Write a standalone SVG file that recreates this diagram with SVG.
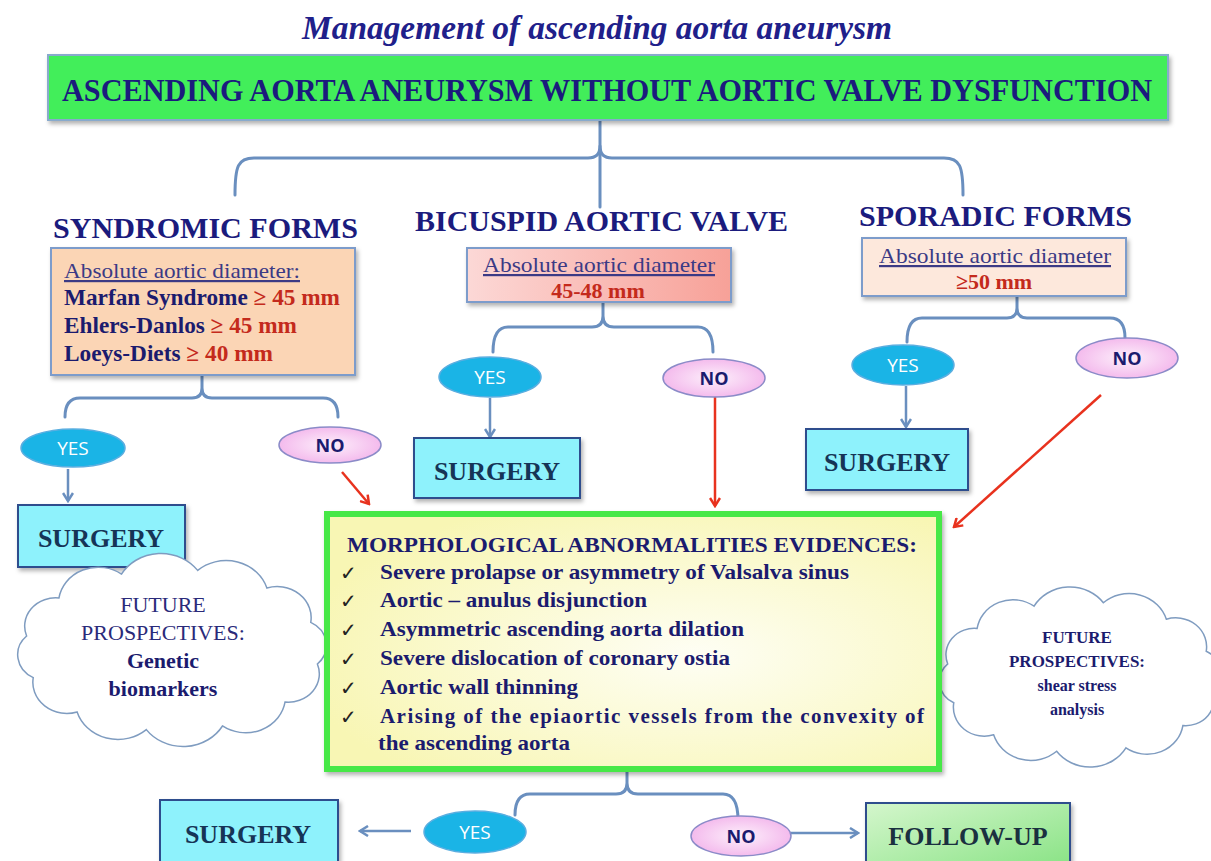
<svg xmlns="http://www.w3.org/2000/svg" xmlns:xlink="http://www.w3.org/1999/xlink" width="1211" height="861" viewBox="0 0 1211 861">
<style>
.hd{font-family:"Liberation Serif",serif;font-weight:bold;fill:#1b1b7d}
.sub{font-family:"Liberation Serif",serif;fill:#3b3a85;text-decoration:underline}
.bd{font-family:"Liberation Serif",serif;font-weight:bold;fill:#1b1b6e}
.red{fill:#c42a1c}
.conn{fill:none;stroke:#6a8fbf;stroke-width:3;stroke-linecap:round;stroke-linejoin:round}
.arb{fill:none;stroke:#6a8fbf;stroke-width:2.5}
.arr{fill:none;stroke:#e8321e;stroke-width:2.5}
.yes{fill:#1ab4e6;stroke:#5aaee0;stroke-width:1.5}
.no{fill:url(#gNo);stroke:#8b8bc8;stroke-width:1.5}
.yt{font-family:"Open Sans","DejaVu Sans",sans-serif;font-size:19px;fill:#ffffff;text-anchor:middle}
.nt{font-family:"Open Sans","DejaVu Sans",sans-serif;font-size:18px;font-weight:bold;fill:#1b1b6e;text-anchor:middle}
.surg{fill:#8ef2fc;stroke:#2d4d8d;stroke-width:2}
.st{font-family:"Liberation Serif",serif;font-weight:bold;font-size:26px;fill:#163456;text-anchor:middle}
.cloud{fill:#ffffff;stroke:#7f9cc0;stroke-width:1.5}
.ck{font-family:"DejaVu Sans",sans-serif;font-size:20px;fill:#222}
</style>
<defs>
<filter id="sh" x="-10%" y="-10%" width="120%" height="130%">
<feDropShadow dx="2" dy="3" stdDeviation="2" flood-color="#000" flood-opacity="0.3"/>
</filter>
<radialGradient id="gNo" cx="50%" cy="50%" r="60%">
<stop offset="0" stop-color="#fdf0fb"/>
<stop offset="1" stop-color="#f2b0ea"/>
</radialGradient>
<linearGradient id="gBic" x1="0" y1="0" x2="1" y2="0">
<stop offset="0" stop-color="#fcd8d6"/>
<stop offset="1" stop-color="#f7a198"/>
</linearGradient>
<radialGradient id="gMid" cx="60%" cy="55%" r="65%">
<stop offset="0" stop-color="#fefef4"/>
<stop offset="1" stop-color="#f8f6b4"/>
</radialGradient>
<linearGradient id="gFol" x1="0" y1="0" x2="1" y2="1">
<stop offset="0" stop-color="#d4f6cc"/>
<stop offset="1" stop-color="#86e282"/>
</linearGradient>
<marker id="mb" viewBox="0 0 12 12" refX="10" refY="6" markerWidth="12" markerHeight="12" markerUnits="userSpaceOnUse" orient="auto">
<path d="M2,1 L10,6 L2,11" fill="none" stroke="#6a8fbf" stroke-width="2.5"/>
</marker>
<marker id="mr" viewBox="0 0 12 12" refX="10" refY="6" markerWidth="12" markerHeight="12" markerUnits="userSpaceOnUse" orient="auto">
<path d="M2,1 L10,6 L2,11" fill="none" stroke="#e8321e" stroke-width="2.5"/>
</marker>
<path id="cloudShape" vector-effect="non-scaling-stroke" d="M-98.5,-10.4 A21,21 0 0 1 -76.6,-38.6 A27,27 0 0 1 -34.2,-56.4 A31,31 0 0 1 17.4,-59.1 A29,29 0 0 1 64.3,-46 A23,23 0 0 1 94,-20.5 A19,19 0 0 1 98.5,10.4 A21,21 0 0 1 76.6,38.6 A27,27 0 0 1 34.2,56.4 A31,31 0 0 1 -17.4,59.1 A29,29 0 0 1 -64.3,46 A23,23 0 0 1 -94,20.5 A19,19 0 0 1 -98.5,-10.4 Z"/>
</defs>

<rect width="1211" height="861" fill="#ffffff"/>

<text id="title" x="597" y="39" text-anchor="middle" textLength="590" lengthAdjust="spacingAndGlyphs" style="font-family:'Liberation Serif',serif;font-style:italic;font-weight:bold;font-size:33px;fill:#20208a">Management of ascending aorta aneurysm</text>

<g id="connectors">
<path class="conn" d="M600,120 L600,207"/>
<path class="conn" d="M235,195 C235,166 238,158 254,158 L588,158 Q600,158 600,146 Q600,158 612,158 L944,158 C960,158 963,166 963,195"/>
<path class="conn" d="M202,375 L202,388 Q202,398 192,398 L80,398 Q65,398 65,417 M202,388 Q202,398 212,398 L323,398 Q338,398 338,417"/>
<path class="conn" d="M603,302 L603,316 Q603,327 592,327 L508,327 Q493,327 493,352 M603,316 Q603,327 614,327 L698,327 Q713,327 713,352"/>
<path class="conn" d="M1017,296 L1017,308 Q1017,318 1007,318 L922,318 Q907,318 907,342 M1017,308 Q1017,318 1027,318 L1110,318 Q1125,318 1125,338"/>
<path class="conn" d="M627,769 L627,783 Q627,794 616,794 L530,794 Q515,794 515,815 M627,783 Q627,794 638,794 L723,794 Q738,794 738,820"/>
<path class="arb" d="M68,469 L68,501" marker-end="url(#mb)"/>
<path class="arb" d="M490,398 L490,437" marker-end="url(#mb)"/>
<path class="arb" d="M906,386 L906,427" marker-end="url(#mb)"/>
<path class="arb" d="M411,831 L360,831" marker-end="url(#mb)"/>
<path class="arb" d="M791,833 L858,833" marker-end="url(#mb)"/>
<path class="arr" d="M342,472 L369,504" marker-end="url(#mr)"/>
<path class="arr" d="M715,396 L715,506" marker-end="url(#mr)"/>
<path class="arr" d="M1101,395 L954,527" marker-end="url(#mr)"/>
</g>

<g id="top">
<rect x="48" y="55" width="1120" height="65" fill="#42ee5a" stroke="#88aacc" stroke-width="2" filter="url(#sh)"/>
<text class="hd" x="62" y="101" font-size="31" textLength="1090" lengthAdjust="spacingAndGlyphs">ASCENDING AORTA ANEURYSM WITHOUT AORTIC VALVE DYSFUNCTION</text>
</g>

<g id="syndromic">
<text class="hd" x="53" y="238" font-size="30" textLength="305" lengthAdjust="spacingAndGlyphs">SYNDROMIC FORMS</text>
<rect x="51" y="248" width="304" height="127" fill="#fbd5b5" stroke="#7d9ccb" stroke-width="2" filter="url(#sh)"/>
<text class="sub" x="64" y="278" font-size="22" textLength="236" lengthAdjust="spacingAndGlyphs">Absolute aortic diameter:</text>
<text class="bd" x="64" y="305" font-size="23" textLength="276" lengthAdjust="spacingAndGlyphs">Marfan Syndrome <tspan class="red">≥ 45 mm</tspan></text>
<text class="bd" x="64" y="333" font-size="23" textLength="233" lengthAdjust="spacingAndGlyphs">Ehlers-Danlos <tspan class="red">≥ 45 mm</tspan></text>
<text class="bd" x="64" y="361" font-size="23" textLength="209" lengthAdjust="spacingAndGlyphs">Loeys-Diets <tspan class="red">≥ 40 mm</tspan></text>
</g>

<g id="bicuspid">
<text class="hd" x="415" y="231" font-size="29" textLength="373" lengthAdjust="spacingAndGlyphs">BICUSPID AORTIC VALVE</text>
<rect x="467" y="248" width="264" height="54" fill="url(#gBic)" stroke="#7d9ccb" stroke-width="2" filter="url(#sh)"/>
<text class="sub" x="599" y="272" font-size="22" text-anchor="middle" textLength="232" lengthAdjust="spacingAndGlyphs">Absolute aortic diameter</text>
<text class="bd red" x="598" y="298" font-size="22" text-anchor="middle">45-48 mm</text>
</g>

<g id="sporadic">
<text class="hd" x="859" y="226" font-size="30" textLength="273" lengthAdjust="spacingAndGlyphs">SPORADIC FORMS</text>
<rect x="862" y="238" width="264" height="58" fill="#fde8dc" stroke="#7d9ccb" stroke-width="2" filter="url(#sh)"/>
<text class="sub" x="995" y="263" font-size="22" text-anchor="middle" textLength="232" lengthAdjust="spacingAndGlyphs">Absolute aortic diameter</text>
<text class="bd red" x="994" y="289" font-size="22" text-anchor="middle">≥50 mm</text>
</g>

<g id="yes1"><ellipse class="yes" cx="73" cy="448" rx="52" ry="19"/><text class="yt" x="73" y="455">YES</text></g>
<g id="no1"><ellipse class="no" cx="330" cy="445" rx="51" ry="18"/><text class="nt" x="330" y="452">NO</text></g>
<g id="yes2"><ellipse class="yes" cx="490" cy="377" rx="51" ry="20"/><text class="yt" x="490" y="384">YES</text></g>
<g id="no2"><ellipse class="no" cx="714" cy="378" rx="51" ry="19"/><text class="nt" x="714" y="385">NO</text></g>
<g id="yes3"><ellipse class="yes" cx="903" cy="365" rx="51" ry="20"/><text class="yt" x="903" y="372">YES</text></g>
<g id="no3"><ellipse class="no" cx="1127" cy="358" rx="51" ry="20"/><text class="nt" x="1127" y="365">NO</text></g>
<g id="yes4"><ellipse class="yes" cx="475" cy="832" rx="51" ry="21"/><text class="yt" x="475" y="839">YES</text></g>
<g id="no4"><ellipse class="no" cx="741" cy="836" rx="50" ry="20"/><text class="nt" x="741" y="843">NO</text></g>

<g id="surgery1"><rect class="surg" x="18" y="505" width="167" height="62" filter="url(#sh)"/><text class="st" x="101" y="547">SURGERY</text></g>
<g id="surgery2"><rect class="surg" x="414" y="438" width="166" height="60" filter="url(#sh)"/><text class="st" x="497" y="480">SURGERY</text></g>
<g id="surgery3"><rect class="surg" x="806" y="429" width="162" height="61" filter="url(#sh)"/><text class="st" x="887" y="471">SURGERY</text></g>
<g id="surgery4"><rect class="surg" x="160" y="800" width="178" height="70" filter="url(#sh)"/><text class="st" x="248" y="843">SURGERY</text></g>

<g id="followup"><rect x="866" y="803" width="204" height="70" fill="url(#gFol)" stroke="#2d4d8d" stroke-width="2" filter="url(#sh)"/><text class="st" x="968" y="845" style="fill:#1a3040">FOLLOW-UP</text></g>

<g id="cloudLeft">
<use xlink:href="#cloudShape" class="cloud" transform="translate(172,650) scale(1.476,1.347)"/>
<text x="163" y="612" text-anchor="middle" style="font-family:'Liberation Serif',serif;font-size:22px;fill:#2a2a7a">FUTURE</text>
<text x="163" y="640" text-anchor="middle" style="font-family:'Liberation Serif',serif;font-size:22px;fill:#2a2a7a">PROSPECTIVES:</text>
<text class="bd" x="163" y="668" font-size="22" text-anchor="middle">Genetic</text>
<text class="bd" x="163" y="696" font-size="22" text-anchor="middle">biomarkers</text>
</g>

<g id="cloudRight">
<use xlink:href="#cloudShape" class="cloud" transform="translate(1080,677) scale(1.343,1.257)"/>
<text class="bd" x="1077" y="643" font-size="17" text-anchor="middle">FUTURE</text>
<text class="bd" x="1077" y="667" font-size="17" text-anchor="middle">PROSPECTIVES:</text>
<text class="bd" x="1077" y="691" font-size="16" text-anchor="middle">shear stress</text>
<text class="bd" x="1077" y="715" font-size="16" text-anchor="middle">analysis</text>
</g>

<g id="morpho">
<rect x="327" y="514" width="612" height="255" fill="url(#gMid)" stroke="#46e846" stroke-width="6" filter="url(#sh)"/>
<text class="bd" x="347" y="552" font-size="21" textLength="570" lengthAdjust="spacingAndGlyphs">MORPHOLOGICAL ABNORMALITIES EVIDENCES:</text>
<text class="ck" x="340" y="580">✓</text>
<text class="ck" x="340" y="608">✓</text>
<text class="ck" x="340" y="637">✓</text>
<text class="ck" x="340" y="666">✓</text>
<text class="ck" x="340" y="695">✓</text>
<text class="ck" x="340" y="724">✓</text>
<text class="bd" x="380" y="579" font-size="21" textLength="469" lengthAdjust="spacingAndGlyphs">Severe prolapse or asymmetry of Valsalva sinus</text>
<text class="bd" x="380" y="607" font-size="21" textLength="267" lengthAdjust="spacingAndGlyphs">Aortic – anulus disjunction</text>
<text class="bd" x="380" y="636" font-size="21" textLength="364" lengthAdjust="spacingAndGlyphs">Asymmetric ascending aorta dilation</text>
<text class="bd" x="380" y="665" font-size="21" textLength="350" lengthAdjust="spacingAndGlyphs">Severe dislocation of coronary ostia</text>
<text class="bd" x="380" y="694" font-size="21" textLength="198" lengthAdjust="spacingAndGlyphs">Aortic wall thinning</text>
<text class="bd" x="380" y="723" font-size="21" textLength="544" lengthAdjust="spacing">Arising of the epiaortic vessels from the convexity of</text>
<text class="bd" x="378" y="750" font-size="21" textLength="192" lengthAdjust="spacingAndGlyphs">the ascending aorta</text>
</g>
</svg>
